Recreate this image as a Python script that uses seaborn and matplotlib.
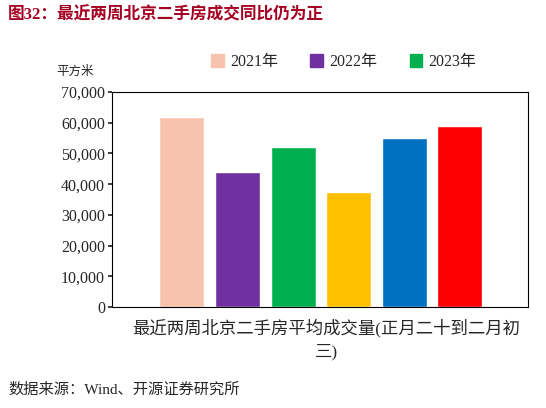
import matplotlib
matplotlib.use('Agg')
import matplotlib.pyplot as plt
import seaborn as sns
from matplotlib.patches import Patch

sns.set_theme(style='white')
plt.rcParams['font.family'] = ['Liberation Serif', 'Noto Sans CJK SC']

# data
bar_ids = ['a', 'b', 'c', 'd', 'e', 'f']
values = [62000, 43800, 52200, 37300, 55000, 58800]
colors = ['#F8C3AC', '#7030A0', '#00B050', '#FFC000', '#0070C0', '#FF0000']
legend_labels = ['2021年', '2022年', '2023年']
yticks = [0, 10000, 20000, 30000, 40000, 50000, 60000, 70000]

fig = plt.figure(figsize=(5.46, 4.08), dpi=100)
ax = fig.add_axes([112/546, 1-307/408, 416/546, 215/408])

sns.barplot(x=bar_ids, y=values, hue=bar_ids, palette=colors, width=0.81,
            legend=False, ax=ax, saturation=1)
ax.set_xlim(-1.26, 6.23)
ax.set_ylim(0, 70000)
ax.set_yticks(yticks)
ax.set_yticklabels([f'{v:,}' for v in yticks], fontsize=11.5)
ax.set_xticks([])
ax.set_xlabel('')
ax.set_ylabel('')
for s in ax.spines.values():
    s.set_color('black')
    s.set_linewidth(0.8)
ax.tick_params(axis='y', length=3, direction='out', left=True, pad=2)

handles = [Patch(color=c) for c in colors[:3]]
fig.legend(handles, legend_labels, loc='center', bbox_to_anchor=(0.63, 1-62/408),
           ncol=3, frameon=False, fontsize=11.5, handlelength=0.8, handleheight=0.8,
           columnspacing=2.0, handletextpad=0.4)

fig.text(75/546, 1-72/408, '平方米', fontsize=9, ha='center', va='center')
fig.text(8/546, 1-15/408, '图32：最近两周北京二手房成交同比仍为正', fontsize=12,
         fontweight='bold', color='#A50021', ha='left', va='center')
fig.text(326/546, 1-328/408, '最近两周北京二手房平均成交量(正月二十到二月初', fontsize=12.5,
         ha='center', va='center')
fig.text(326/546, 1-352/408, '三)', fontsize=12.5, ha='center', va='center')
fig.text(8/546, 1-390/408, '数据来源：Wind、开源证券研究所', fontsize=11,
         ha='left', va='center')

fig.savefig('out.png', dpi=100)
